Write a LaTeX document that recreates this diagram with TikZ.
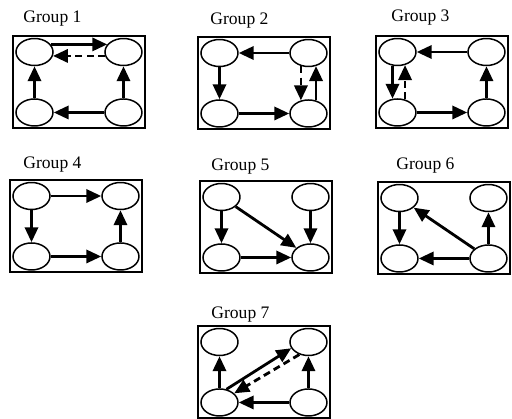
\documentclass[tikz,border=0pt]{standalone}
\usepackage{fontspec}
\setmainfont{Liberation Serif}
\usetikzlibrary{%
  arrows.meta,%
  positioning,% wg. " of "
  fit,%
  shapes.geometric% ellipse
}

\begin{document}
\begin{tikzpicture}[x=0.02cm, y=0.02cm, >={Triangle[length=8.5pt,width=7.5pt]},
    line width=1.6pt, node distance=0.64cm and 1.01cm,
    blob/.style={ellipse, draw, line width=0.85pt, minimum width=0.74cm, minimum height=0.54cm, inner sep=0pt},
    frame/.style={draw, line width=1.2pt, inner xsep=0.04cm, inner ysep=0.03cm},
    grp/.style={anchor=base west, inner sep=0pt},
    back/.style={dashed, dash pattern=on 4pt off 2.5pt}]
  \useasboundingbox (0,0) rectangle (512,-419);

  % group 1
  \begin{scope}[shift={(14,-37)}]
    \node[blob] (tl1) at (20.5,-15) {};
    \node[blob] (tr1) [right=of tl1] {};
    \node[blob] (bl1) [below=of tl1] {};
    \node[blob] (br1) [below=of tr1] {};
    \node[frame, fit=(tl1)(br1)] (box1) {};
    \node[grp] (lbl1) at (8,14) {Group 1};
  \end{scope}
  \path[->]
    (tl1.25) edge (tr1.155)
    (tr1.192) edge[back] (tl1.-12)
    (bl1) edge (tl1)
    (br1) edge (tr1)
    (br1) edge (bl1);

  % group 2
  \begin{scope}[shift={(199,-38)}]
    \node[blob] (tl2) at (20.5,-15) {};
    \node[blob] (tr2) [right=of tl2] {};
    \node[blob] (bl2) [below=of tl2] {};
    \node[blob] (br2) [below=of tr2] {};
    \node[frame, fit=(tl2)(br2)] (box2) {};
    \node[grp] (lbl2) at (10,13) {Group 2};
  \end{scope}
  \path[->]
    (tr2) edge (tl2)
    (tl2) edge (bl2)
    (bl2) edge (br2)
    (tr2.-120) edge[back] (br2.120)
    (br2.60) edge (tr2.-60);

  % group 3
  \begin{scope}[shift={(377,-37)}]
    \node[blob] (tl3) at (20.5,-15) {};
    \node[blob] (tr3) [right=of tl3] {};
    \node[blob] (bl3) [below=of tl3] {};
    \node[blob] (br3) [below=of tr3] {};
    \node[frame, fit=(tl3)(br3)] (box3) {};
    \node[grp] (lbl3) at (13,15) {Group 3};
  \end{scope}
  \path[->]
    (tr3) edge (tl3)
    (tl3.-110) edge (bl3.110)
    (bl3.60) edge[back] (tl3.-60)
    (bl3) edge (br3)
    (br3) edge (tr3);

  % group 4
  \begin{scope}[shift={(11,-181)}]
    \node[blob] (tl4) at (20.5,-15) {};
    \node[blob] (tr4) [right=of tl4] {};
    \node[blob] (bl4) [below=of tl4] {};
    \node[blob] (br4) [below=of tr4] {};
    \node[frame, fit=(tl4)(br4)] (box4) {};
    \node[grp] (lbl4) at (11,12) {Group 4};
  \end{scope}
  \path[->]
    (tl4) edge (tr4)
    (tl4) edge (bl4)
    (bl4) edge (br4)
    (br4) edge (tr4);

  % group 5
  \begin{scope}[shift={(201,-182)}]
    \node[blob] (tl5) at (20.5,-15) {};
    \node[blob] (tr5) [right=of tl5] {};
    \node[blob] (bl5) [below=of tl5] {};
    \node[blob] (br5) [below=of tr5] {};
    \node[frame, fit=(tl5)(br5)] (box5) {};
    \node[grp] (lbl5) at (9,11) {Group 5};
  \end{scope}
  \path[->]
    (tl5) edge (bl5)
    (tl5) edge (br5)
    (tr5) edge (br5)
    (bl5) edge (br5);

  % group 6
  \begin{scope}[shift={(379,-183)}]
    \node[blob] (tl6) at (20.5,-15) {};
    \node[blob] (tr6) [right=of tl6] {};
    \node[blob] (bl6) [below=of tl6] {};
    \node[blob] (br6) [below=of tr6] {};
    \node[frame, fit=(tl6)(br6)] (box6) {};
    \node[grp] (lbl6) at (16,13) {Group 6};
  \end{scope}
  \path[->]
    (tl6) edge (bl6)
    (br6) edge (tl6)
    (br6) edge (tr6)
    (br6) edge (bl6);

  % group 7
  \begin{scope}[shift={(199,-327)}]
    \node[blob] (tl7) at (20.5,-15) {};
    \node[blob] (tr7) [right=of tl7] {};
    \node[blob] (bl7) [below=of tl7] {};
    \node[blob] (br7) [below=of tr7] {};
    \node[frame, fit=(tl7)(br7)] (box7) {};
    \node[grp] (lbl7) at (11,8) {Group 7};
  \end{scope}
  \path[->]
    (bl7) edge (tl7)
    (bl7.62) edge (tr7.200)
    (tr7.-126) edge[back] (bl7.32)
    (br7) edge (tr7)
    (br7) edge (bl7);
\end{tikzpicture}
\end{document}
